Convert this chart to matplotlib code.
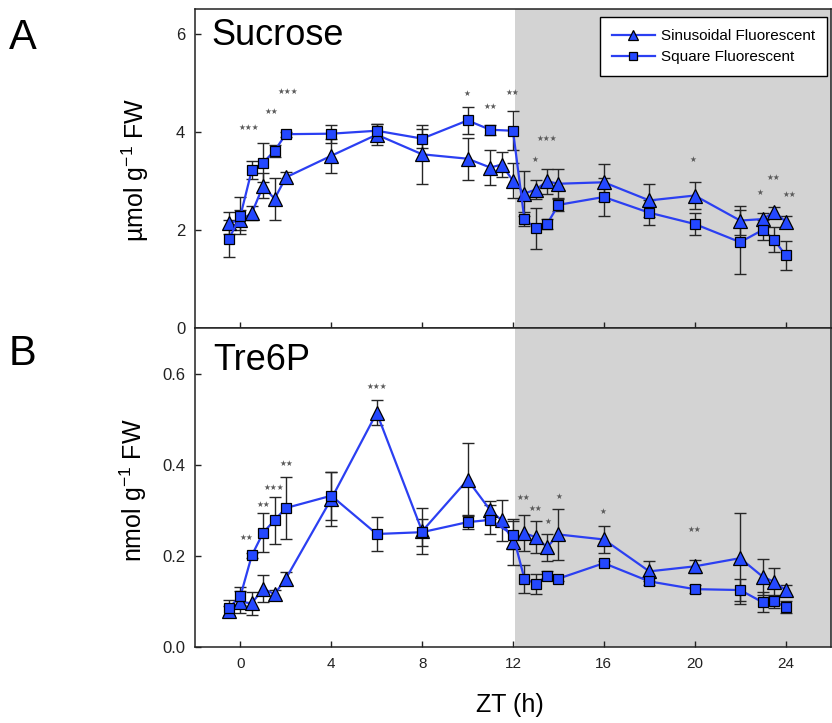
import matplotlib
matplotlib.use("Agg")
import matplotlib.pyplot as plt

plt.rcParams['font.family'] = ['Liberation Sans', 'DejaVu Sans']
plt.rcParams['mathtext.fontset'] = 'custom'
plt.rcParams['mathtext.rm'] = 'Liberation Sans'

# sampling times (h)
t_sin = [-0.5, 0, 0.5, 1, 1.5, 2, 4, 6, 8, 10, 11, 11.5, 12, 12.5, 13, 13.5, 14, 16, 18, 20, 22, 23, 23.5, 24]
t_sq = [-0.5, 0, 0.5, 1, 1.5, 2, 4, 6, 8, 10, 11, 12, 12.5, 13, 13.5, 14, 16, 18, 20, 22, 23, 23.5, 24]

# Sucrose (umol/g FW)
suc_sin = [2.14, 2.2, 2.34, 2.9, 2.63, 3.07, 3.51, 3.94, 3.54, 3.45, 3.27, 3.33, 3.0, 2.74,
           2.82, 2.99, 2.94, 2.97, 2.6, 2.7, 2.19, 2.22, 2.37, 2.17]
suc_sin_err = [0.22, 0.2, 0.14, 0.25, 0.42, 0.1, 0.35, 0.22, 0.6, 0.43, 0.35, 0.25, 0.36, 0.45,
               0.2, 0.25, 0.3, 0.38, 0.33, 0.27, 0.3, 0.12, 0.1, 0.12]
suc_sq = [1.82, 2.29, 3.22, 3.37, 3.61, 3.95, 3.96, 4.02, 3.86, 4.23, 4.04, 4.02, 2.22,
          2.03, 2.12, 2.51, 2.67, 2.35, 2.12, 1.75, 2.0, 1.8, 1.48]
suc_sq_err = [0.38, 0.38, 0.18, 0.4, 0.12, 0.05, 0.18, 0.14, 0.2, 0.27, 0.1, 0.4, 0.15,
              0.41, 0.1, 0.12, 0.38, 0.26, 0.23, 0.65, 0.2, 0.25, 0.3]

# Tre6P (nmol/g FW)
t6p_sin = [0.08, 0.099, 0.096, 0.128, 0.116, 0.15, 0.325, 0.514, 0.254, 0.367, 0.3, 0.278, 0.231,
           0.25, 0.241, 0.219, 0.247, 0.236, 0.166, 0.177, 0.195, 0.154, 0.143, 0.125]
t6p_sin_err = [0.01, 0.025, 0.025, 0.03, 0.01, 0.015, 0.06, 0.027, 0.05, 0.08, 0.02, 0.045, 0.05,
               0.04, 0.035, 0.03, 0.055, 0.03, 0.022, 0.015, 0.1, 0.04, 0.03, 0.01]
t6p_sq = [0.086, 0.112, 0.201, 0.251, 0.278, 0.305, 0.332, 0.248, 0.252, 0.274, 0.279, 0.246,
          0.15, 0.139, 0.156, 0.15, 0.184, 0.144, 0.127, 0.125, 0.098, 0.1, 0.088]
t6p_sq_err = [0.018, 0.02, 0.005, 0.042, 0.052, 0.067, 0.053, 0.037, 0.03, 0.015, 0.032, 0.03,
              0.031, 0.022, 0.01, 0.005, 0.005, 0.007, 0.008, 0.025, 0.022, 0.015, 0.014]

# significance marks (time, height, label)
suc_stars = [(0.35, 4.09, '***'), (1.36, 4.41, '**'), (2.07, 4.82, '***'), (9.97, 4.78, '*'),
             (11.0, 4.52, '**'), (11.97, 4.81, '**'), (13.5, 3.87, '***'), (12.97, 3.44, '*'),
             (19.93, 3.43, '*'), (23.47, 3.07, '**'), (22.85, 2.76, '*'), (24.17, 2.73, '**')]
t6p_stars = [(0.27, 0.241, '**'), (1.0, 0.312, '**'), (1.48, 0.35, '***'), (2.04, 0.403, '**'),
             (6.0, 0.571, '***'), (12.47, 0.328, '**'), (12.99, 0.303, '**'), (13.52, 0.276, '*'),
             (14.02, 0.33, '*'), (15.98, 0.298, '*'), (20.0, 0.259, '**')]

LINE = '#2b3ff2'
FACE = '#2448ff'
EBAR = '#262626'

fig = plt.figure(figsize=(8.32, 7.23), dpi=100)
ax1 = fig.add_axes([0.2344, 0.5463, 0.7644, 0.4412])
ax2 = fig.add_axes([0.2344, 0.1051, 0.7644, 0.4412])


def draw_panel(ax, ys, yerr, yq, yqerr, stars):
    ax.axvspan(12.1, 26, color='#d3d3d3', lw=0, zorder=0)
    ax.errorbar(t_sin, ys, yerr=yerr, fmt='none', ecolor=EBAR, elinewidth=1, capsize=4,
                capthick=1, zorder=2)
    ax.errorbar(t_sq, yq, yerr=yqerr, fmt='none', ecolor=EBAR, elinewidth=1, capsize=4,
                capthick=1, zorder=2)
    ax.plot(t_sin, ys, '-', color=LINE, lw=1.6, marker='^', ms=9.5, mfc=FACE, mec='black',
            mew=0.9, zorder=3, label='Sinusoidal Fluorescent')
    ax.plot(t_sq, yq, '-', color=LINE, lw=1.6, marker='s', ms=7.5, mfc=FACE, mec='black',
            mew=0.9, zorder=4, label='Square Fluorescent')
    for x, y, s in stars:
        ax.text(x, y, s.replace('*', '\u2605'), fontsize=5.5, color='#5a5a5a',
                ha='center', va='center', family='DejaVu Sans', zorder=5)
    ax.set_xlim(-2, 26)
    ax.set_xticks([0, 4, 8, 12, 16, 20, 24])
    ax.tick_params(axis='both', direction='in', length=4, width=1, colors='#222222')
    ax.tick_params(axis='x', labelsize=11, pad=7)
    ax.tick_params(axis='y', labelsize=12, pad=7)
    for sp in ax.spines.values():
        sp.set_linewidth(1.1)
        sp.set_color('#222222')


draw_panel(ax1, suc_sin, suc_sin_err, suc_sq, suc_sq_err, suc_stars)
ax1.set_ylim(0, 6.5)
ax1.set_yticks([0, 2, 4, 6])
ax1.tick_params(axis='x', labelbottom=False)
ax1.text(0.025, 0.887, 'Sucrose', transform=ax1.transAxes, fontsize=26, va='baseline', ha='left')
leg = ax1.legend(loc='upper right', bbox_to_anchor=(0.9937, 0.975), borderaxespad=0,
                 fontsize=11, handlelength=2.8, handletextpad=0.4, labelspacing=0.45,
                 markerscale=0.8, fancybox=False, framealpha=1, edgecolor='black',
                 borderpad=0.8)
leg.get_frame().set_linewidth(1.0)

draw_panel(ax2, t6p_sin, t6p_sin_err, t6p_sq, t6p_sq_err, t6p_stars)
ax2.set_ylim(0, 0.7)
ax2.set_yticks([0, 0.2, 0.4, 0.6])
ax2.set_yticklabels(['0.0', '0.2', '0.4', '0.6'])
ax2.text(0.028, 0.868, 'Tre6P', transform=ax2.transAxes, fontsize=26, va='baseline', ha='left')

fig.text(0.1623, 0.7649, r'µmol g$^{-1}$ FW', rotation=90, fontsize=18, ha='center', va='center')
fig.text(0.1599, 0.3223, r'nmol g$^{-1}$ FW', rotation=90, fontsize=18, ha='center', va='center')
fig.text(0.613, 0.025, 'ZT (h)', fontsize=18, ha='center', va='center')
fig.text(0.027, 0.947, 'A', fontsize=30, ha='center', va='center')
fig.text(0.027, 0.51, 'B', fontsize=30, ha='center', va='center')

fig.savefig('out.png', dpi=100)
